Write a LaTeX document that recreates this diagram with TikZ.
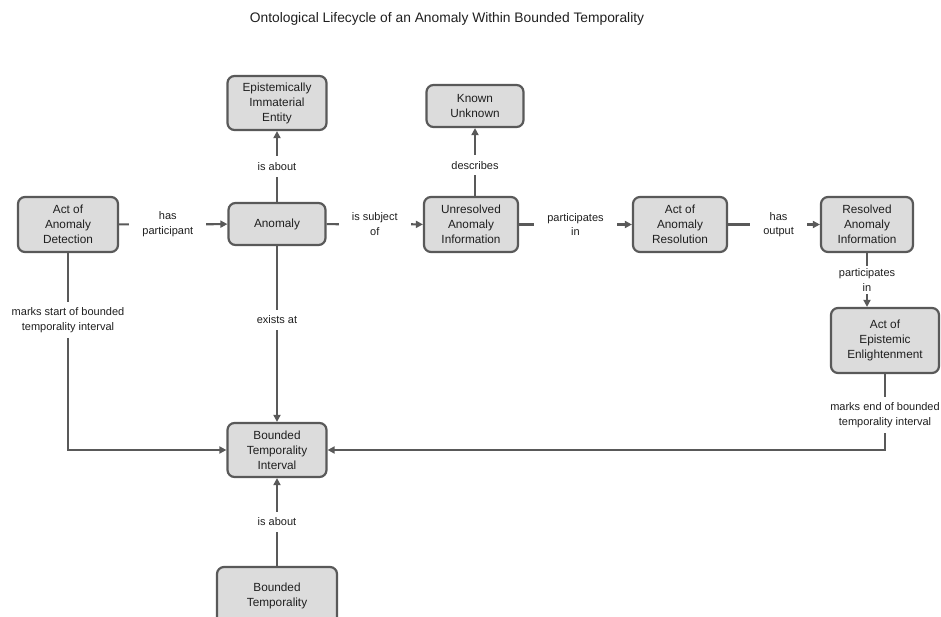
\documentclass[tikz,border=0pt]{standalone}
\usepackage{fontspec}
\setmainfont{Liberation Sans}
\usetikzlibrary{arrows.meta}
\definecolor{boxfill}{HTML}{DCDCDC}
\definecolor{boxline}{HTML}{595959}
\definecolor{edgecol}{HTML}{595959}
\begin{document}
\begin{tikzpicture}[x=1pt,y=-1pt,
  box/.style={draw=boxline,fill=boxfill,line width=2.2pt,rounded corners=7pt,
    align=center,inner sep=0pt,font=\fontsize{11.8}{15}\selectfont,text=black!88},
  rel/.style={draw=edgecol,line width=2.2pt,-{Triangle[length=7pt,width=7pt]}},
  lbl/.style={fill=white,align=center,inner xsep=13pt,inner ysep=5pt,
    font=\fontsize{11}{14.5}\selectfont,text=black!88},
  vlbl/.style={lbl,inner xsep=2pt,inner ysep=6pt}]
\useasboundingbox (0,0) rectangle (941,617);
\node[font=\fontsize{13.8}{16}\selectfont,text=black!88] (title) at (447,19) {Ontological Lifecycle of an Anomaly Within Bounded Temporality};

\node[box,minimum width=100pt,minimum height=55pt] (det) at (68,224.5) {Act of\\Anomaly\\Detection};
\node[box,minimum width=97pt,minimum height=42pt] (anom) at (277,224) {Anomaly};
\node[box,minimum width=99pt,minimum height=54pt] (eie) at (277,103) {Epistemically\\Immaterial\\Entity};
\node[box,minimum width=97pt,minimum height=42pt] (ku) at (475,106) {Known\\Unknown};
\node[box,minimum width=94pt,minimum height=55pt] (unr) at (471,224.5) {Unresolved\\Anomaly\\Information};
\node[box,minimum width=94pt,minimum height=55pt] (res) at (680,224.5) {Act of\\Anomaly\\Resolution};
\node[box,minimum width=92pt,minimum height=55pt] (rai) at (867,224.5) {Resolved\\Anomaly\\Information};
\node[box,minimum width=108pt,minimum height=65pt] (aee) at (885,340.5) {Act of\\Epistemic\\Enlightenment};
\node[box,minimum width=99pt,minimum height=54pt] (bti) at (277,450) {Bounded\\Temporality\\Interval};
\node[box,minimum width=120pt,minimum height=58pt] (bt) at (277,596) {Bounded\\Temporality};

\draw[rel] (det) -- node[lbl,pos=0.45] {has\\participant} (anom);
\draw[rel] (anom) -- node[lbl] {is subject\\of} (unr);
\draw[rel] (unr) -- node[lbl] {participates\\in} (res);
\draw[rel] (res) -- node[lbl,pos=0.55] {has\\output} (rai);
\draw[rel] (anom) -- node[vlbl] {is about} (eie);
\draw[rel] (unr.north -| ku) -- node[vlbl,pos=0.45] {describes} (ku);
\draw[rel] (anom) -- node[vlbl,pos=0.42] {exists at} (bti);
\draw[rel] (rai) -- node[vlbl,inner ysep=3pt] {participates\\in} (aee.north -| rai);
\draw[rel] (det.south) |- node[vlbl,pos=0.17] {marks start of bounded\\temporality interval} (bti.west);
\draw[rel] (aee.south) |- node[vlbl,pos=0.27] {marks end of bounded\\temporality interval} (bti.east);
\draw[rel] (bt) -- node[vlbl] {is about} (bti);
\end{tikzpicture}
\end{document}
